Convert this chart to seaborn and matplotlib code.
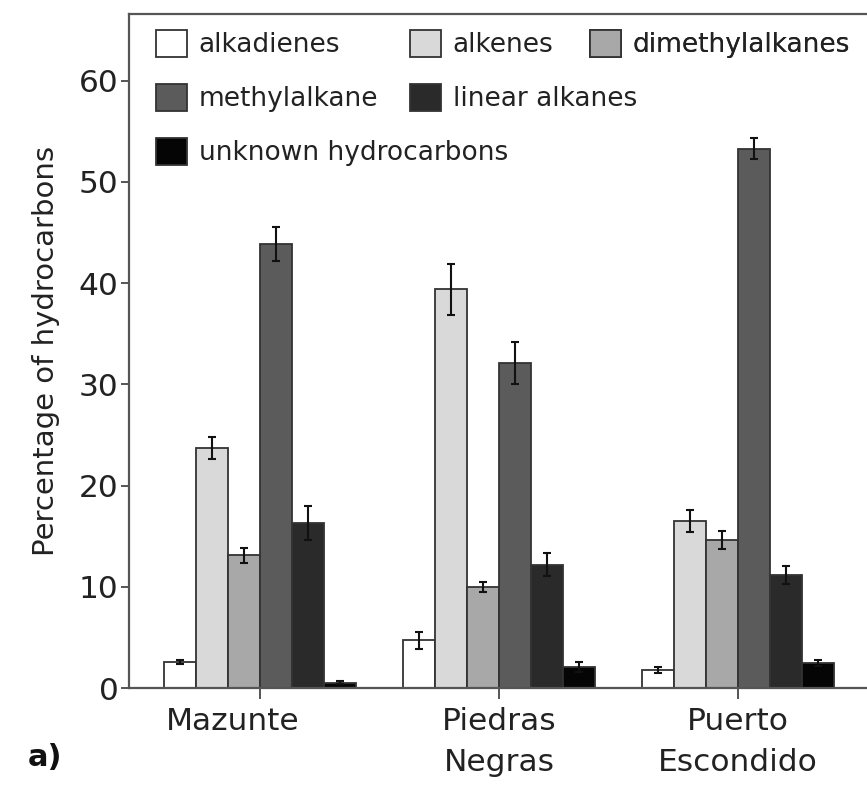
import numpy as np
import pandas as pd
import matplotlib
matplotlib.use("Agg")
import matplotlib.pyplot as plt
import matplotlib.transforms as mtransforms
from matplotlib.patches import Patch
import seaborn as sns

# ---- data ----
sites = ["Mazunte", "Piedras\nNegras", "Puerto\nEscondido"]
classes = ["alkadienes", "alkenes", "dimethylalkanes", "methylalkane",
           "linear alkanes", "unknown hydrocarbons"]
mazunte_vals = [2.6, 23.7, 13.1, 43.9, 16.3, 0.5]
mazunte_err = [0.2, 1.1, 0.7, 1.7, 1.7, 0.15]
piedras_vals = [4.7, 39.4, 10.0, 32.1, 12.2, 2.1]
piedras_err = [0.8, 2.5, 0.5, 2.1, 1.1, 0.5]
puerto_vals = [1.8, 16.5, 14.6, 53.3, 11.2, 2.5]
puerto_err = [0.3, 1.1, 0.9, 1.0, 0.9, 0.3]
colors = ["#ffffff", "#d9d9d9", "#a8a8a8", "#5b5b5b", "#2a2a2a", "#050505"]
yticks = [0, 10, 20, 30, 40, 50, 60]

rows = []
for site, vals, errs in zip(sites, [mazunte_vals, piedras_vals, puerto_vals],
                            [mazunte_err, piedras_err, puerto_err]):
    for c, v, e in zip(classes, vals, errs):
        rows.append({"site": site, "cls": c, "value": v, "err": e})
df = pd.DataFrame(rows)

sns.set_theme(style="white")
plt.rcParams["font.family"] = ["DejaVu Sans"]
TXT = "#222222"
SP = "#555555"

W, H = 867, 786
fig = plt.figure(figsize=(W / 100, H / 100), dpi=100)
ax = fig.add_axes([129 / W, 1 - 688 / H, (W - 129) / W, (688 - 14) / H])

sns.barplot(data=df, x="site", y="value", hue="cls", order=sites,
            hue_order=classes, palette=colors, edgecolor="#333333",
            linewidth=1.3, errorbar=None, legend=False, width=0.8, ax=ax)

for cont, cls in zip(ax.containers, classes):
    sub = df[df["cls"] == cls].set_index("site").loc[sites]
    xs = [b.get_x() + b.get_width() / 2 for b in cont]
    ax.errorbar(xs, sub["value"].values, yerr=sub["err"].values, fmt="none",
                ecolor="#111111", elinewidth=1.5, capsize=3, capthick=1.5,
                zorder=5)

ax.set_xlim(-0.548, 2.54)
ax.set_ylim(0, 66.6)
ax.set_yticks(yticks)
ax.set_xlabel("")
ax.set_ylabel("Percentage of hydrocarbons", fontsize=21, color=TXT)
ax.yaxis.set_label_coords(-0.0935, 0.5)

for s in ["left", "bottom", "top"]:
    ax.spines[s].set_visible(True)
    ax.spines[s].set_color(SP)
    ax.spines[s].set_linewidth(1.6)
ax.spines["right"].set_visible(False)

ax.tick_params(axis="y", direction="out", length=6, width=1.4, color=SP,
               labelsize=22.5, labelcolor=TXT, pad=1.5, left=True)
ax.tick_params(axis="x", direction="out", length=8, width=1.4, color=SP,
               labelsize=22.5, labelcolor=TXT, pad=6, bottom=True)
for lab in ax.get_xticklabels():
    lab.set_linespacing(1.5)
xl = ax.get_xticklabels()[0]
xl.set_transform(xl.get_transform() +
                 mtransforms.ScaledTranslation(-0.27, 0, fig.dpi_scale_trans))

handles = {c: Patch(facecolor=col, edgecolor="#333333", linewidth=1.3)
           for c, col in zip(classes, colors)}
common = dict(frameon=False, fontsize=19, handlelength=1.17, handleheight=1.2,
              handletextpad=0.45, labelspacing=0.97, borderpad=0,
              borderaxespad=0, loc="upper left", labelcolor=TXT,
              bbox_transform=fig.transFigure)


def fxy(px, py):
    return (px / W, 1 - py / H)


groups = [(["alkadienes", "methylalkane", "unknown hydrocarbons"], 156),
          (["alkenes", "linear alkanes"], 410),
          (["dimethylalkanes"], 590)]
for names, px in groups:
    leg = ax.legend([handles[n] for n in names], names,
                    bbox_to_anchor=fxy(px, 30), **common)
    ax.add_artist(leg)

fig.text(45 / W, 1 - 758 / H, "a)", ha="center", va="center", fontsize=22,
         fontweight="bold", color="#111111")

fig.savefig("out.png", dpi=100)
